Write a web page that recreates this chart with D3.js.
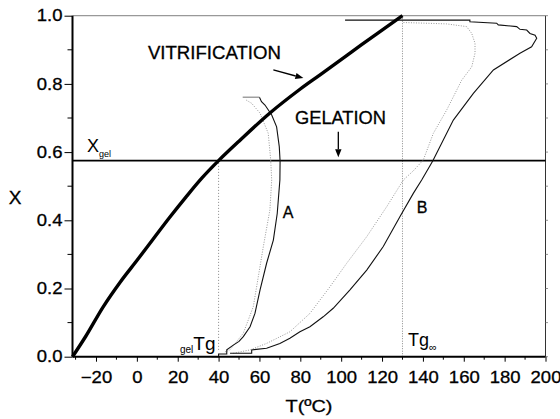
<!DOCTYPE html>
<html>
<head>
<meta charset="utf-8">
<script src="https://cdn.jsdelivr.net/npm/d3@7"></script>
<style>
  html, body { margin: 0; padding: 0; background: #fff; }
  svg { display: block; }
  text { font-family: "Liberation Sans", Arial, sans-serif; fill: #000; }
</style>
</head>
<body>
<svg id="chart" width="560" height="419"></svg>
<script>
// Temperature (°C) / conversion X pairs for each curve
const vitrificationT = [-31.5, -25, -16.4, -8, 0, 8, 16, 24, 32, 40, 50, 65, 80, 90, 110, 130];
const vitrificationX = [0, 0.06, 0.147, 0.22, 0.282, 0.345, 0.408, 0.468, 0.525, 0.575, 0.632, 0.714, 0.785, 0.828, 0.915, 1.0];

const curveAT = [36.6, 40, 40, 44, 44, 47.2, 50, 52.1, 55.4, 57.8, 60.3, 63.5, 66.8, 68.7, 70.0, 70.1, 69.7, 68.4, 66.0, 62.7, 61.0, 60.0];
const curveAX = [0, 0, 0.008, 0.008, 0.02, 0.034, 0.045, 0.059, 0.088, 0.127, 0.196, 0.274, 0.342, 0.42, 0.518, 0.574, 0.616, 0.674, 0.709, 0.738, 0.748, 0.761];
const curveATopT = [60.0, 51.8];
const curveATopX = [0.761, 0.761];

const dottedAT = [43.1, 45.6, 52.1, 57.0, 61.9, 65.1, 66.0, 65.5, 64.3, 60.3, 56.2, 53.4];
const dottedAX = [0.014, 0.02, 0.069, 0.147, 0.323, 0.43, 0.518, 0.577, 0.655, 0.714, 0.743, 0.753];

const curveBT = [45.6, 56.2, 56.2, 63.5, 70.0, 74.9, 79.8, 84.7, 91.2, 96.1, 104.3, 112.5, 120.6, 128.8, 135.3, 139.4, 144.8, 154.9, 164.7, 174.5, 187.5, 193.2, 195.7, 194.9, 192.4, 190.8, 187.5, 185.9, 176.9, 176.1, 163.0, 163.0, 101.9];
const curveBX = [0.01, 0.01, 0.02, 0.025, 0.039, 0.054, 0.073, 0.088, 0.117, 0.142, 0.196, 0.254, 0.323, 0.411, 0.479, 0.518, 0.574, 0.694, 0.772, 0.841, 0.89, 0.909, 0.934, 0.943, 0.948, 0.958, 0.96, 0.968, 0.973, 0.978, 0.982, 0.987, 0.987];

const dottedBT = [47.2, 55.4, 63.5, 74.9, 84.7, 94.5, 102.7, 112.5, 122.3, 130.4, 135.3, 140.2, 145.1, 151.6, 159.0, 163.9, 165.5, 165.5, 163.9, 161.4, 151.6, 130.4];
const dottedBX = [0.01, 0.02, 0.039, 0.073, 0.127, 0.205, 0.274, 0.352, 0.44, 0.518, 0.545, 0.577, 0.655, 0.723, 0.811, 0.85, 0.89, 0.919, 0.948, 0.968, 0.976, 0.98];

const xGel = 0.575;
const tgGel = 40;
const tgInf = 130;

const xTicks = [-20, 0, 20, 40, 60, 80, 100, 120, 140, 160, 180, 200];
const xMinorTicks = [-30, -10, 10, 30, 50, 70, 90, 110, 130, 150, 170, 190];
const yTicks = [0, 0.2, 0.4, 0.6, 0.8, 1.0];
const yMinorTicks = [0.1, 0.3, 0.5, 0.7, 0.9];

const zip = (ts, xs) => ts.map((t, i) => [t, xs[i]]);

const svg = d3.select("#chart");
const x = d3.scaleLinear().domain([-31.5, 200]).range([72.5, 545.5]);
const y = d3.scaleLinear().domain([0, 1]).range([356.7, 15.7]);

const line = d3.line().x(d => x(d[0])).y(d => y(d[1]));
const smooth = d3.line().x(d => x(d[0])).y(d => y(d[1])).curve(d3.curveCatmullRom);

// frame: grey top, thin right side
svg.append("line").attr("x1", x(-31.5)).attr("x2", x(200)).attr("y1", y(1)).attr("y2", y(1))
  .attr("stroke", "#999").attr("stroke-width", 1.2);
svg.append("line").attr("x1", x(200)).attr("x2", x(200)).attr("y1", y(1)).attr("y2", y(0))
  .attr("stroke", "#333").attr("stroke-width", 1);
svg.append("g").selectAll("line").data(yTicks.concat(yMinorTicks)).join("line")
  .attr("x1", x(200)).attr("x2", x(200) + 2.5)
  .attr("y1", d => y(d)).attr("y2", d => y(d))
  .attr("stroke", "#777").attr("stroke-width", 0.8);

// dotted reference lines at gel Tg and Tg∞
svg.append("line").attr("x1", x(tgGel)).attr("x2", x(tgGel)).attr("y1", y(0.02)).attr("y2", y(0.57))
  .attr("stroke", "#888").attr("stroke-width", 1).attr("stroke-dasharray", "1,2");
svg.append("line").attr("x1", x(tgInf)).attr("x2", x(tgInf)).attr("y1", y(0)).attr("y2", y(1))
  .attr("stroke", "#888").attr("stroke-width", 1).attr("stroke-dasharray", "1,1.5");

// gelation line
svg.append("line").attr("x1", x(-31.5)).attr("x2", x(200)).attr("y1", y(xGel)).attr("y2", y(xGel))
  .attr("stroke", "#000").attr("stroke-width", 1.8);

// dotted curves
svg.append("path").datum(zip(dottedAT, dottedAX)).attr("d", line)
  .attr("fill", "none").attr("stroke", "#999").attr("stroke-width", 1).attr("stroke-dasharray", "1,1.5");
svg.append("path").datum(zip(dottedBT, dottedBX)).attr("d", line)
  .attr("fill", "none").attr("stroke", "#999").attr("stroke-width", 1).attr("stroke-dasharray", "1,1.5");

// solid curves A and B
svg.append("path").datum(zip(curveAT, curveAX)).attr("d", line)
  .attr("fill", "none").attr("stroke", "#111").attr("stroke-width", 1.1);
svg.append("path").datum(zip(curveATopT, curveATopX)).attr("d", line)
  .attr("fill", "none").attr("stroke", "#888").attr("stroke-width", 1.2);
svg.append("path").datum(zip(curveBT, curveBX)).attr("d", line)
  .attr("fill", "none").attr("stroke", "#111").attr("stroke-width", 1.1);

// vitrification curve
svg.append("path").datum(zip(vitrificationT, vitrificationX)).attr("d", smooth)
  .attr("fill", "none").attr("stroke", "#000").attr("stroke-width", 3.4).attr("stroke-linecap", "butt");

// axes
const xAxis = d3.axisBottom(x).tickValues(xTicks).tickSize(5).tickPadding(10).tickFormat(d3.format("d"));
const gx = svg.append("g").attr("transform", `translate(0,${y(0)})`).call(xAxis);
gx.select(".domain").attr("stroke-width", 2).attr("d", `M${x(-31.5)},0H${x(200)}`);
gx.selectAll("text").attr("font-size", 16.5).attr("font-family", "Liberation Sans, Arial, sans-serif");
gx.append("g").selectAll("line").data(xMinorTicks).join("line")
  .attr("x1", d => x(d)).attr("x2", d => x(d)).attr("y1", 0).attr("y2", 3)
  .attr("stroke", "#000");

const yAxis = d3.axisLeft(y).tickValues(yTicks).tickSize(8).tickPadding(2).tickFormat(d3.format(".1f"));
const gy = svg.append("g").attr("transform", `translate(${x(-31.5)},0)`).call(yAxis);
gy.select(".domain").attr("stroke-width", 2).attr("d", `M0,${y(0)}V${y(1)}`);
gy.selectAll("text").attr("font-size", 16.5).attr("font-family", "Liberation Sans, Arial, sans-serif");
gy.append("g").selectAll("line").data(yMinorTicks).join("line")
  .attr("x1", 0).attr("x2", -5).attr("y1", d => y(d)).attr("y2", d => y(d))
  .attr("stroke", "#000");

// widen and darken tick labels slightly
svg.selectAll(".tick text").each(function () {
  const w = this.getComputedTextLength();
  d3.select(this).attr("textLength", w * 1.12).attr("lengthAdjust", "spacingAndGlyphs")
    .attr("stroke", "#000").attr("stroke-width", 0.3);
});

// axis titles
svg.append("text").attr("x", (x(-31.5) + x(200)) / 2).attr("y", 412).attr("text-anchor", "middle")
  .attr("font-size", 17).attr("textLength", 47).attr("lengthAdjust", "spacingAndGlyphs")
  .attr("stroke", "#000").attr("stroke-width", 0.3).text("T(ºC)");
svg.append("text").attr("x", 15).attr("y", 204).attr("text-anchor", "middle")
  .attr("font-size", 19).attr("stroke", "#000").attr("stroke-width", 0.3).text("X");

// annotations
svg.append("text").attr("x", x(5.4)).attr("y", y(0.872)).attr("font-size", 18)
  .attr("textLength", 133).attr("lengthAdjust", "spacingAndGlyphs")
  .attr("stroke", "#000").attr("stroke-width", 0.3).text("VITRIFICATION");
svg.append("text").attr("x", x(77.4)).attr("y", y(0.682)).attr("font-size", 18)
  .attr("textLength", 91).attr("lengthAdjust", "spacingAndGlyphs")
  .attr("stroke", "#000").attr("stroke-width", 0.3).text("GELATION");
svg.append("text").attr("x", x(71.4)).attr("y", y(0.408)).attr("font-size", 16)
  .attr("stroke", "#000").attr("stroke-width", 0.3).text("A");
svg.append("text").attr("x", x(137)).attr("y", y(0.42)).attr("font-size", 16)
  .attr("stroke", "#000").attr("stroke-width", 0.3).text("B");

const xg = svg.append("text").attr("x", x(-24.4)).attr("y", y(0.601)).attr("font-size", 18);
xg.append("tspan").text("X");
xg.append("tspan").attr("font-size", 9).attr("dy", 5).text("gel");

const tg = svg.append("text").attr("x", x(21.1)).attr("y", y(0.011)).attr("font-size", 10);
tg.append("tspan").text("gel");
tg.append("tspan").attr("font-size", 19).attr("dy", -3).text("Tg");

const ti = svg.append("text").attr("x", x(132.7)).attr("y", y(0.031)).attr("font-size", 18);
ti.append("tspan").text("Tg");
ti.append("tspan").attr("font-size", 11).attr("dy", 5).text("∞");

// arrows
function arrow(t0, x0, t1, x1) {
  const px0 = x(t0), py0 = y(x0), px1 = x(t1), py1 = y(x1);
  const ang = Math.atan2(py1 - py0, px1 - px0);
  const L = 8, W = 3.2;
  const bx = px1 - L * Math.cos(ang), by = py1 - L * Math.sin(ang);
  svg.append("line").attr("x1", px0).attr("y1", py0).attr("x2", bx).attr("y2", by)
    .attr("stroke", "#000").attr("stroke-width", 1.3);
  svg.append("path")
    .attr("d", `M${px1},${py1}L${bx - W * Math.sin(ang)},${by + W * Math.cos(ang)}L${bx + W * Math.sin(ang)},${by - W * Math.cos(ang)}Z`)
    .attr("fill", "#000");
}
arrow(66.8, 0.841, 81.5, 0.817);
arrow(98.6, 0.66, 98.6, 0.585);
</script>
</body>
</html>
